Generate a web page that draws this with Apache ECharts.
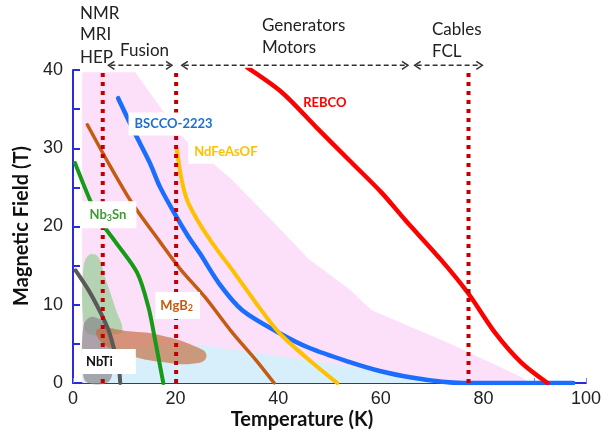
<!DOCTYPE html>
<html>
<head>
<meta charset="utf-8">
<script src="https://cdn.jsdelivr.net/npm/echarts@6/dist/echarts.min.js"></script>
<style>
  html, body { margin: 0; padding: 0; background: #fff; }
  #chart { width: 604px; height: 436px; }
</style>
</head>
<body>
<div id="chart"></div>
<script>
// critical field curves, [temperature K, field T]
const rebco = [[34, 40.3], [40.8, 37.1], [47.4, 32.7], [53.8, 28.5], [60.2, 24.3], [64.8, 20.8], [71.8, 15.7], [77, 11.5], [82.3, 6.4], [87.4, 2.6], [92.5, 0]];
const bscco = [[8.8, 36.4], [12, 32], [15, 28.1], [17, 25], [20.2, 21.2], [22.5, 18.7], [24.7, 16.6], [28.6, 12.6], [33, 9.3], [40.2, 6.4], [46, 4.5], [53.8, 2.7], [60, 1.5], [66, 0.7], [72, 0.15], [76, 0], [97.5, 0]];
const ndfeasof = [[20.2, 30], [21.2, 25.9], [22.3, 23.3], [24.1, 21], [26, 19], [28, 17.1], [31.1, 14.4], [35.7, 10.2], [40.2, 6.4], [45.4, 3.3], [51.5, 0]];
const mgb2 = [[2.8, 33], [7, 28], [11.5, 23], [17, 18], [21, 14.5], [25.7, 11], [31.1, 6.4], [35.7, 2.9], [39.2, 0]];
const nb3sn = [[0.4, 28.1], [3.3, 23.4], [5.2, 20.8], [8.2, 18.1], [12.5, 14.1], [14.7, 9.7], [16, 5.5], [17.6, 0]];
const nbti = [[0.5, 14.4], [3, 11.9], [5.3, 9.1], [6.9, 6.8], [7.9, 4.6], [8.9, 2.2], [9.2, 0]];

// shaded operating regions
const pinkRegion = [[1.8, 0], [1.8, 39.7], [12.1, 39.7], [17.5, 34.8], [22, 31], [27.2, 28.1], [31.1, 25.9], [39.6, 20.2], [46, 15.8], [53.8, 12], [58.2, 9.3], [73.2, 5.1], [87.3, 0.8], [89, 0]];
const blueRegion = [[2, 0], [2, 4.5], [10, 4.6], [24.7, 4.9], [36, 3.8], [45, 3], [53.8, 2.1], [62, 1], [70, 0.3], [75, 0]];
const greenBlob = [[2, 14.5], [3, 16.3], [4.8, 16.2], [6.5, 13], [8.3, 9.5], [9.6, 6.6], [7, 6.2], [3, 6.3], [2, 8]];
const grayBlob = [[2, 1], [2, 7.2], [3.3, 8.4], [5, 8.2], [7, 7], [7.8, 4], [7.6, 1], [6.5, 0], [3, 0]];
const orangeBlob = [[4.9, 6.9], [11, 6.6], [17, 6.1], [24.1, 4.6], [26, 3.6], [24.7, 2.6], [17, 2.7], [9.2, 4], [5.3, 5.4]];

// operating temperatures (dotted) and application bands
const dottedTemps = [5.8, 20.1, 77.1];
const arrowSpans = [[6.9, 19.3], [21.2, 65.3], [66.6, 79.8]];
const arrowField = 40.6;

const labelTexts = ['BSCCO-2223', 'NdFeAsOF', 'REBCO', 'Nb{s|3}Sn', 'MgB{s|2}', 'NbTi'];
const labelPos = [[19.6, 33.1], [29.8, 29.5], [49.1, 35.8], [7.0, 21.5], [20.4, 9.9], [7.0, 2.75]];
const labelColors = ['#1f6fd0', '#ffc000', '#ff0000', '#3f9a35', '#c55a11', '#111111'];
const labelPads = [[5, 6, 5, 6], [5, 6, 5, 6], [0, 0, 0, 0], [6, 10, 6, 8], [6, 7, 6, 5], [6, 23, 6, 4]];
const xTicks = [0, 20, 40, 60, 80, 100];
const yTicks = [0, 10, 20, 30, 40];

const chart = echarts.init(document.getElementById('chart'));

function regionSeries(pts, fill, smooth) {
  return {
    type: 'custom',
    data: [[0, 0]],
    silent: true,
    renderItem: function (params, api) {
      return {
        type: 'polygon',
        shape: { points: pts.map(p => api.coord(p)), smooth: smooth },
        style: { fill: fill }
      };
    }
  };
}

function curve(data, color, width) {
  return {
    type: 'line',
    data: data,
    smooth: 0.3,
    showSymbol: false,
    silent: true,
    lineStyle: { color: color, width: width, cap: 'round' },
    z: 5
  };
}

const series = [
  regionSeries(pinkRegion, '#fce0f9', 0),
  regionSeries(blueRegion, '#d6effa', 0),
  regionSeries(greenBlob, 'rgba(140,205,140,0.65)', 0.4),
  regionSeries(grayBlob, 'rgba(140,135,140,0.7)', 0.4),
  regionSeries(orangeBlob, 'rgba(195,105,55,0.65)', 0.5),
  curve(nbti, '#595959', 4),
  curve(nb3sn, '#179a17', 4),
  curve(mgb2, '#c55a11', 3.5),
  curve(bscco, '#1a6dff', 4.5),
  curve(ndfeasof, '#ffc000', 4),
  curve(rebco, '#ff0000', 4.5)
];

dottedTemps.forEach(t => {
  series.push({
    type: 'line',
    data: [[t, 0], [t, 39.8]],
    showSymbol: false,
    silent: true,
    lineStyle: { color: '#c00000', width: 4, type: [4, 5] },
    z: 6
  });
});

// dashed double arrows above the plot
series.push({
  type: 'custom',
  data: arrowSpans,
  silent: true,
  clip: false,
  z: 7,
  renderItem: function (params, api) {
    const a = api.coord([api.value(0), arrowField]);
    const b = api.coord([api.value(1), arrowField]);
    const st = { stroke: '#333', lineWidth: 1.5, fill: null };
    return {
      type: 'group',
      children: [
        { type: 'line', shape: { x1: a[0] + 2, y1: a[1], x2: b[0] - 2, y2: b[1] }, style: Object.assign({ lineDash: [5, 3] }, st) },
        { type: 'polyline', shape: { points: [[a[0] + 6, a[1] - 4], [a[0], a[1]], [a[0] + 6, a[1] + 4]] }, style: st },
        { type: 'polyline', shape: { points: [[b[0] - 6, b[1] - 4], [b[0], b[1]], [b[0] - 6, b[1] + 4]] }, style: st }
      ]
    };
  }
});

// material labels
series.push({
  type: 'custom',
  data: labelPos,
  silent: true,
  z: 10,
  renderItem: function (params, api) {
    const i = params.dataIndex;
    const c = api.coord([api.value(0), api.value(1)]);
    return {
      type: 'text',
      x: c[0], y: c[1],
      style: {
        text: labelTexts[i],
        fill: labelColors[i],
        font: 'bold 13px Lato',
        align: 'center',
        verticalAlign: 'middle',
        backgroundColor: i === 2 ? null : '#ffffff',
        padding: labelPads[i],
        rich: {
          s: { fill: labelColors[i], font: 'bold 9px Lato', verticalAlign: 'bottom', padding: [6, 0, 0, 0] }
        }
      }
    };
  }
});

const topFont = '17px Lato';
const option = {
  animation: false,
  backgroundColor: '#fff',
  grid: { left: 73, right: 14, top: 70, bottom: 53 },
  xAxis: {
    type: 'value', min: 0, max: 100, interval: 10,
    axisLine: { lineStyle: { color: '#2b2bd9', width: 2 } },
    axisTick: { inside: true, length: 5, lineStyle: { color: '#7d7dff', width: 1 } },
    axisLabel: {
      color: '#222', fontSize: 18, fontFamily: 'Liberation Sans', margin: 7,
      formatter: v => (xTicks.indexOf(v) >= 0 ? String(v) : '')
    },
    splitLine: { show: false }
  },
  yAxis: {
    type: 'value', min: 0, max: 40, interval: 5,
    axisLine: { show: true, lineStyle: { color: '#2b2bd9', width: 2 } },
    axisTick: { show: true, inside: true, length: 7, lineStyle: { color: '#2b2bd9', width: 2 } },
    axisLabel: {
      color: '#222', fontSize: 18, fontFamily: 'Liberation Sans', margin: 10,
      formatter: v => (yTicks.indexOf(v) >= 0 ? String(v) : '')
    },
    splitLine: { show: false }
  },
  graphic: [
    { type: 'text', left: 80, top: 5, style: { text: 'NMR', font: topFont, fill: '#222' } },
    { type: 'text', left: 80, top: 26, style: { text: 'MRI', font: topFont, fill: '#222' } },
    { type: 'text', left: 80, top: 49, style: { text: 'HEP', font: topFont, fill: '#222' } },
    { type: 'text', left: 120, top: 42, style: { text: 'Fusion', font: topFont, fill: '#222' } },
    { type: 'text', left: 262, top: 17, style: { text: 'Generators', font: topFont, fill: '#222' } },
    { type: 'text', left: 262, top: 39, style: { text: 'Motors', font: topFont, fill: '#222' } },
    { type: 'text', left: 432, top: 21, style: { text: 'Cables', font: topFont, fill: '#222' } },
    { type: 'text', left: 432, top: 43, style: { text: 'FCL', font: topFont, fill: '#222' } },
    { type: 'text', left: 'center', top: 410, style: { text: 'Temperature (K)', font: 'bold 20px Lato', fill: '#111' }, x: 8 },
    { type: 'text', x: 22, y: 226, rotation: Math.PI / 2, style: { text: 'Magnetic Field (T)', font: 'bold 20px Lato', fill: '#111', align: 'center', verticalAlign: 'middle' } }
  ],
  series: series
};

chart.setOption(option);
</script>
</body>
</html>
